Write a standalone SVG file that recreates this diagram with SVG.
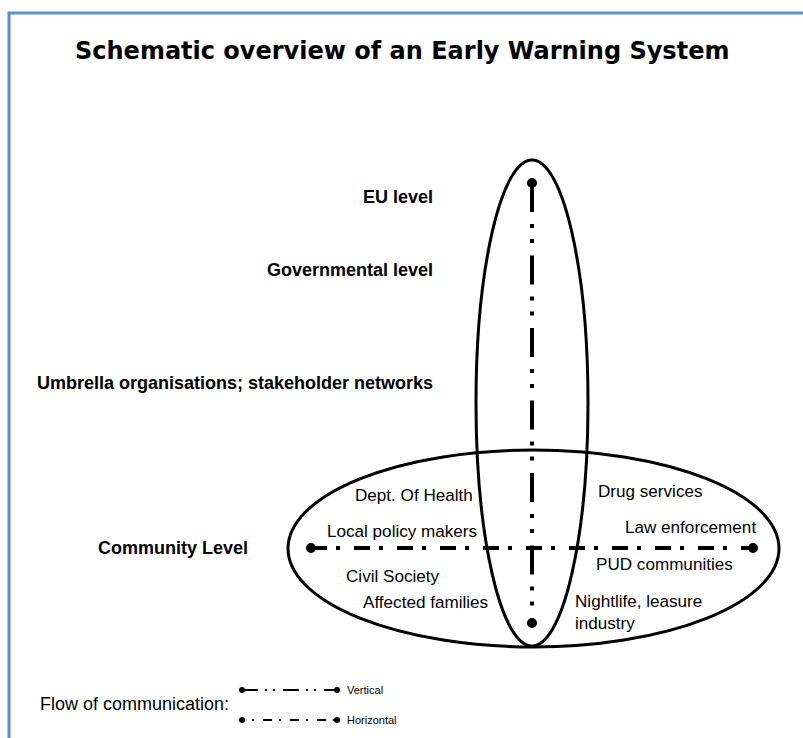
<svg xmlns="http://www.w3.org/2000/svg" width="803" height="738" viewBox="0 0 803 738">
<style>
.border{stroke:#5b8fd5;stroke-width:3;fill:none}
.ell{fill:none;stroke:#000;stroke-width:3}
.title{font-family:"DejaVu Sans",Verdana,sans-serif;font-weight:bold;font-size:24px;fill:#000}
.lvl{font-family:"Liberation Sans",Arial,sans-serif;font-weight:bold;font-size:18px;fill:#000}
.lbl{font-family:"Liberation Sans",Arial,sans-serif;font-size:17.1px;fill:#000}
.leg{font-family:"Liberation Sans",Arial,sans-serif;font-size:11px;fill:#000}
.vline{stroke:#000;stroke-width:4;fill:none;stroke-dasharray:29 12 4 11 4 12.5}
.hline{stroke:#000;stroke-width:4;fill:none;stroke-dasharray:16 9 4 14}
.lv{stroke:#000;stroke-width:2;fill:none;stroke-dasharray:16 7 2 6 2 8}
.lh{stroke:#000;stroke-width:2;fill:none;stroke-dasharray:2 9 9 7;stroke-dashoffset:17}
</style>
<rect width="803" height="738" fill="#fff"/>
<path class="border" d="M9,738 V13 H803"/>
<text class="title" x="75" y="59">Schematic overview of an Early Warning System</text>

<g id="levels">
<text class="lvl" x="433" y="203" text-anchor="end">EU level</text>
<text class="lvl" x="433" y="276" text-anchor="end">Governmental level</text>
<text class="lvl" x="433" y="389" text-anchor="end">Umbrella organisations; stakeholder networks</text>
<text class="lvl" x="248" y="554" text-anchor="end">Community Level</text>
</g>

<g id="vertical-ellipse">
<ellipse class="ell" cx="532" cy="403" rx="56" ry="243"/>
</g>
<g id="horizontal-ellipse">
<ellipse class="ell" cx="533.5" cy="548.5" rx="245.5" ry="98.5"/>
</g>

<g id="connectors">
<path class="vline" d="M532,183 V623"/>
<circle cx="532" cy="183" r="5"/>
<circle cx="532" cy="623" r="5"/>
<path class="hline" d="M311,548 H753"/>
<circle cx="311" cy="548" r="5"/>
<circle cx="753" cy="548" r="5"/>
</g>

<g id="community-labels">
<text class="lbl" x="355" y="501">Dept. Of Health</text>
<text class="lbl" x="327" y="537">Local policy makers</text>
<text class="lbl" x="346" y="582">Civil Society</text>
<text class="lbl" x="363" y="608">Affected families</text>
<text class="lbl" x="598" y="497">Drug services</text>
<text class="lbl" x="625" y="533">Law enforcement</text>
<text class="lbl" x="596" y="570">PUD communities</text>
<text class="lbl" x="575" y="607">Nightlife, leasure</text>
<text class="lbl" x="575" y="629">industry</text>
</g>

<g id="legend">
<text class="lbl" x="40" y="710" style="font-size:18px">Flow of communication:</text>
<path class="lv" d="M242,690 H337"/>
<circle cx="242" cy="690" r="3"/>
<circle cx="337" cy="690" r="3"/>
<text class="leg" x="347" y="694">Vertical</text>
<path class="lh" d="M242,720 H337"/>
<circle cx="242" cy="720" r="3"/>
<circle cx="337" cy="720" r="3"/>
<text class="leg" x="347" y="724">Horizontal</text>
</g>
</svg>
